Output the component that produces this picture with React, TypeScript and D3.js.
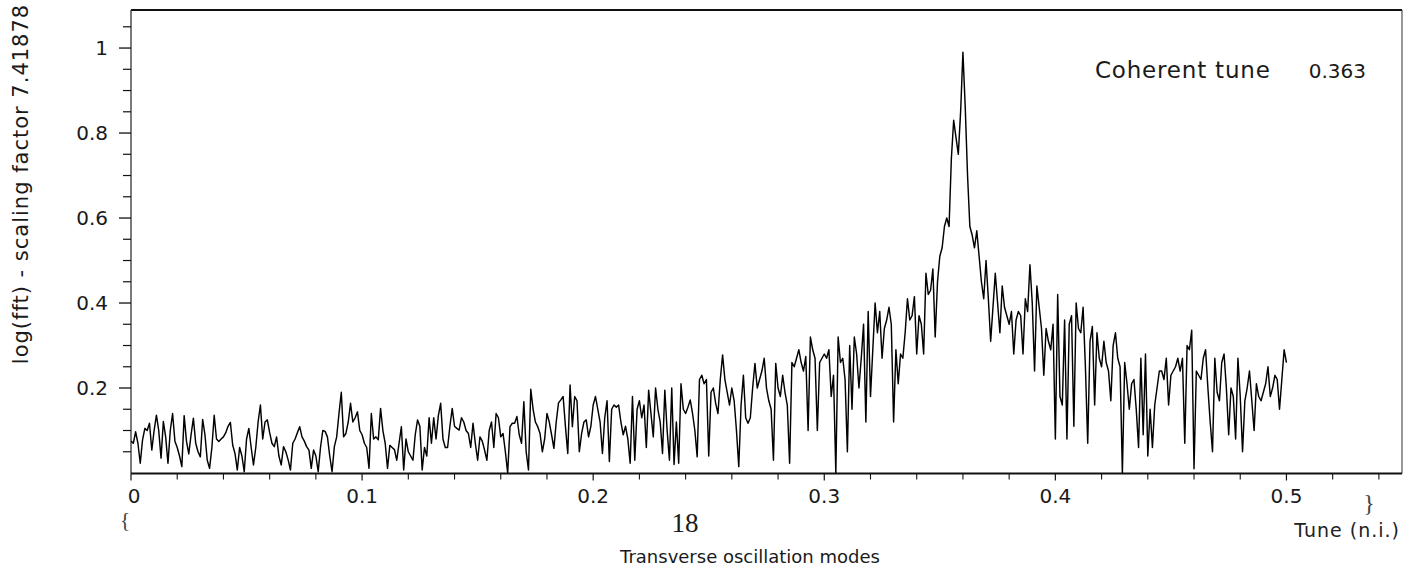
import React from "react";
import * as d3 from "d3";

// ---- data (tune step 0.001) ----
const TUNE_START = 0;
const TUNE_STEP = 0.001;

const seg0 = [
  0.075, 0.07, 0.097, 0.07, 0.023, 0.078, 0.105, 0.1, 0.117, 0.054,
  0.1, 0.136, 0.1, 0.035, 0.121, 0.085, 0.023, 0.1, 0.14, 0.075,
  0.06, 0.04, 0.015, 0.135, 0.075, 0.045, 0.09, 0.129, 0.07, 0.05,
  0.038, 0.126, 0.09, 0.03, 0.011, 0.06, 0.136, 0.08, 0.074, 0.08,
  0.085, 0.095, 0.11, 0.119, 0.066, 0.046, 0.007, 0.06, 0.04, 0.003,
  0.08, 0.105, 0.06, 0.019, 0.06, 0.12, 0.16, 0.08, 0.12, 0.125,
  0.095, 0.07, 0.062, 0.085, 0.04, 0.019, 0.062, 0.05, 0.031, 0.007,
  0.07, 0.08, 0.095, 0.109, 0.085, 0.075, 0.062, 0.054, 0.011, 0.054,
  0.04, 0.003, 0.06, 0.1, 0.098, 0.085, 0.04, 0.003, 0.062, 0.085,
  0.14, 0.19, 0.085, 0.093, 0.12, 0.164, 0.12, 0.13, 0.144, 0.1,
];
const seg1 = [
  0.09, 0.07, 0.06, 0.011, 0.14, 0.08, 0.085, 0.078, 0.152, 0.1,
  0.07, 0.011, 0.065, 0.06, 0.055, 0.03, 0.07, 0.109, 0.007, 0.08,
  0.05, 0.04, 0.03, 0.09, 0.125, 0.11, 0.007, 0.06, 0.04, 0.13,
  0.07, 0.13, 0.08, 0.135, 0.164, 0.08, 0.06, 0.06, 0.11, 0.152,
  0.11, 0.105, 0.101, 0.13, 0.12, 0.1, 0.093, 0.06, 0.117, 0.07,
  0.03, 0.085, 0.075, 0.054, 0.03, 0.1, 0.12, 0.06, 0.14, 0.13,
  0.085, 0.093, 0.05, 0.0, 0.109, 0.117, 0.117, 0.133, 0.09, 0.07,
  0.168, 0.05, 0.007, 0.197, 0.15, 0.12, 0.109, 0.093, 0.05, 0.08,
  0.14, 0.12, 0.09, 0.058, 0.12, 0.165, 0.172, 0.18, 0.109, 0.046,
  0.207, 0.109, 0.18, 0.17, 0.05, 0.093, 0.12, 0.125, 0.085, 0.11,
];
const seg2 = [
  0.16, 0.18, 0.15, 0.12, 0.046, 0.13, 0.17, 0.027, 0.15, 0.16,
  0.155, 0.16, 0.12, 0.09, 0.11, 0.08, 0.023, 0.18, 0.03, 0.15,
  0.17, 0.13, 0.16, 0.06, 0.195, 0.14, 0.085, 0.2, 0.15, 0.12,
  0.046, 0.195, 0.1, 0.03, 0.2, 0.02, 0.12, 0.023, 0.21, 0.15,
  0.14, 0.155, 0.172, 0.14, 0.1, 0.038, 0.22, 0.23, 0.21, 0.22,
  0.04, 0.19, 0.2, 0.164, 0.14, 0.22, 0.278, 0.22, 0.19, 0.16,
  0.2, 0.17, 0.1, 0.015, 0.16, 0.23, 0.13, 0.117, 0.13, 0.2,
  0.258, 0.2, 0.22, 0.24, 0.27, 0.2, 0.17, 0.15, 0.03, 0.258,
  0.2, 0.18, 0.23, 0.19, 0.16, 0.023, 0.26, 0.25, 0.27, 0.29,
  0.26, 0.24, 0.274, 0.1, 0.32, 0.29, 0.27, 0.1, 0.26, 0.27,
];
const seg3 = [
  0.28, 0.27, 0.29, 0.18, 0.23, 0.0, 0.32, 0.26, 0.27, 0.22,
  0.05, 0.3, 0.15, 0.32, 0.28, 0.2, 0.27, 0.35, 0.12, 0.38,
  0.18, 0.29, 0.4, 0.33, 0.38, 0.27, 0.34, 0.36, 0.39, 0.35,
  0.12, 0.29, 0.21, 0.28, 0.27, 0.33, 0.41, 0.36, 0.37, 0.415,
  0.28, 0.37, 0.35, 0.28, 0.47, 0.42, 0.43, 0.48, 0.32, 0.45,
  0.51, 0.53, 0.58, 0.6, 0.58, 0.74, 0.83, 0.79, 0.75, 0.85,
  0.99, 0.86, 0.7, 0.58, 0.56, 0.53, 0.57, 0.51, 0.45, 0.41,
  0.5, 0.41, 0.31, 0.39, 0.47, 0.4, 0.33, 0.44, 0.39, 0.37,
  0.35, 0.38, 0.28, 0.36, 0.38, 0.37, 0.28, 0.41, 0.38, 0.49,
  0.4, 0.24, 0.44, 0.39, 0.34, 0.23, 0.34, 0.31, 0.29, 0.35,
];
const seg4 = [
  0.08, 0.42, 0.18, 0.16, 0.36, 0.08, 0.35, 0.37, 0.11, 0.4,
  0.34, 0.33, 0.39, 0.25, 0.07, 0.31, 0.345, 0.16, 0.33, 0.27,
  0.25, 0.31, 0.26, 0.24, 0.17, 0.3, 0.33, 0.27, 0.25, 0.0,
  0.26, 0.21, 0.15, 0.21, 0.22, 0.15, 0.06, 0.27, 0.09, 0.28,
  0.04, 0.15, 0.06, 0.16, 0.2, 0.24, 0.24, 0.22, 0.27, 0.16,
  0.23, 0.24, 0.25, 0.27, 0.24, 0.27, 0.07, 0.3, 0.29, 0.336,
  0.01, 0.24, 0.23, 0.22, 0.27, 0.29, 0.2, 0.12, 0.05, 0.27,
  0.19, 0.17, 0.26, 0.28, 0.2, 0.09, 0.2, 0.18, 0.08, 0.27,
  0.18, 0.05, 0.17, 0.2, 0.24, 0.17, 0.1, 0.21, 0.18, 0.17,
  0.19, 0.21, 0.25, 0.18, 0.2, 0.23, 0.22, 0.15, 0.22, 0.29,
  0.26,
];

const spectrum = [...seg0, ...seg1, ...seg2, ...seg3, ...seg4];

const xMajorTicks = [0, 0.1, 0.2, 0.3, 0.4, 0.5];
const xMajorLabels = ["0", "0.1", "0.2", "0.3", "0.4", "0.5"];
const xMinorTicks = [0.02, 0.04, 0.06, 0.08, 0.12, 0.14, 0.16, 0.18, 0.22, 0.24, 0.26, 0.28, 0.32, 0.34, 0.36, 0.38, 0.42, 0.44, 0.46, 0.48, 0.52, 0.54];
const yMajorTicks = [0.2, 0.4, 0.6, 0.8, 1];
const yMajorLabels = ["0.2", "0.4", "0.6", "0.8", "1"];
const yMinorTicks = [0.05, 0.1, 0.15, 0.25, 0.3, 0.35, 0.45, 0.5, 0.55, 0.65, 0.7, 0.75, 0.85, 0.9, 0.95, 1.05];

const W = 1418;
const H = 571;
const FONT = "'DejaVu Sans', 'Liberation Sans', sans-serif";
const TEXT = "#1a1a1a";

export default function App() {
  const left = 131;
  const right = 1402;
  const top = 10;
  const bottom = 473.5;
  const x = d3.scaleLinear().domain([0, 0.55]).range([left, right]);
  const y = d3.scaleLinear().domain([0, 1.09]).range([473, 9.8]);

  const line = d3
    .line<number>()
    .x((_, i) => x(TUNE_START + i * TUNE_STEP))
    .y((d) => y(d));

  const path = line(spectrum) || "";

  return (
    <svg
      width={W}
      height={H}
      viewBox={`0 0 ${W} ${H}`}
      style={{ position: "absolute", left: 0, top: 0, background: "#fff" }}
    >
      <rect x={0} y={0} width={W} height={H} fill="#fff" />
      {/* frame */}
      <line x1={left} x2={right} y1={top} y2={top} stroke="#111" strokeWidth={2} />
      <line x1={left} x2={left} y1={top} y2={bottom} stroke="#222" strokeWidth={1.2} />
      <line x1={right} x2={right} y1={top} y2={bottom} stroke="#333" strokeWidth={1} />
      <line x1={left} x2={right} y1={bottom} y2={bottom} stroke="#111" strokeWidth={2.2} />

      {/* y ticks */}
      {yMajorTicks.map((v, i) => (
        <g key={"ym" + i}>
          <line x1={left - 12} x2={left} y1={y(v)} y2={y(v)} stroke="#111" strokeWidth={1.3} />
          <text
            x={108}
            y={y(v)}
            dy="0.36em"
            textAnchor="end"
            fontFamily={FONT}
            fontSize={20}
            fill={TEXT}
          >
            {yMajorLabels[i]}
          </text>
        </g>
      ))}
      {yMinorTicks.map((v, i) => (
        <line key={"yn" + i} x1={left - 8} x2={left} y1={y(v)} y2={y(v)} stroke="#111" strokeWidth={1.2} />
      ))}

      {/* x ticks */}
      {xMajorTicks.map((v, i) => (
        <g key={"xm" + i}>
          <line x1={x(v)} x2={x(v)} y1={bottom} y2={bottom + 7} stroke="#111" strokeWidth={1.2} />
          <text
            x={x(v) + (i === 0 ? 3 : 0)}
            y={503}
            textAnchor="middle"
            fontFamily={FONT}
            fontSize={20}
            fill={TEXT}
          >
            {xMajorLabels[i]}
          </text>
        </g>
      ))}
      {xMinorTicks.map((v, i) => (
        <line key={"xn" + i} x1={x(v)} x2={x(v)} y1={bottom} y2={bottom + 6} stroke="#111" strokeWidth={1.1} />
      ))}

      {/* spectrum */}
      <path d={path} fill="none" stroke="#000" strokeWidth={1.45} strokeLinejoin="round" />

      {/* annotations */}
      <text x={1095} y={78} fontFamily={FONT} fontSize={23} letterSpacing={0.8} fill={TEXT}>
        Coherent tune
      </text>
      <text x={1366} y={78} textAnchor="end" fontFamily={FONT} fontSize={20} fill={TEXT}>
        0.363
      </text>

      <text
        transform={`translate(28, 184) rotate(-90)`}
        textAnchor="middle"
        fontFamily={FONT}
        fontSize={21}
        letterSpacing={1}
        fill={TEXT}
      >
        log(fft) - scaling factor 7.41878
      </text>

      <text x={685} y={532} textAnchor="middle" fontFamily="'Liberation Serif', serif" fontSize={27} fill={TEXT}>
        18
      </text>
      <text x={1400} y={537} textAnchor="end" fontFamily={FONT} fontSize={19} letterSpacing={1} fill="#222">
        Tune (n.i.)
      </text>
      <text x={750} y={563} textAnchor="middle" fontFamily={FONT} fontSize={18} fill={TEXT}>
        Transverse oscillation modes
      </text>
      <text x={125} y={527} textAnchor="middle" fontFamily="'Liberation Serif', serif" fontSize={22} fill="#444">
        {"{"}
      </text>
      <text x={1369} y={511} textAnchor="middle" fontFamily="'Liberation Serif', serif" fontSize={24} fill="#444">
        {"}"}
      </text>
    </svg>
  );
}
